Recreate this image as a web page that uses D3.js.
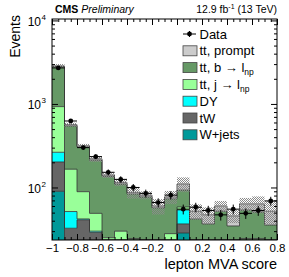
<!DOCTYPE html>
<html>
<head>
<meta charset="utf-8">
<script src="https://cdn.jsdelivr.net/npm/d3@7"></script>
<style>
  body { margin: 0; background: #fff; }
  svg { display: block; font-family: "Liberation Sans", Arial, sans-serif; }
</style>
</head>
<body>
<svg width="289" height="277"></svg>
<script>
// lepton MVA score bins (low edges), width 0.1
const binLow = [-1, -0.9, -0.8, -0.7, -0.6, -0.5, -0.4, -0.3, -0.2, -0.1, 0, 0.1, 0.2, 0.3, 0.4, 0.5, 0.6, 0.7]
const binWidth = 0.1

const data     = [2700, 625, 300, 234, 152, 125, 100, 85, 66, 81, 55, 58, 53, 47, 55, 49, 53, 69]
const wjets    = [90, 10, 5, 3, 2, 2, 1, 1, 1, 1, 28.5, 1, 1, 1, 1, 1, 1, 1]
const tw       = [112, 22.5, 36, 26, 10, 12, 22, 10, 10, 12, 8.1, 6, 6, 7, 6, 6, 6, 6]
const dy       = [62, 19, 1, 1, 1, 1, 0.5, 1, 1, 2, 17.2, 1, 1, 1, 1, 1, 1, 1]
const ttJ      = [665, 114, 47, 19, 12, 15, 1, 8, 6, 13, 4.6, 5, 5, 5, 4, 16.5, 16.5, 5]
const ttB      = [1870, 380, 216, 163, 111, 80, 59, 57, 39, 45, 34.6, 29, 23.6, 38, 22.6, 29.3, 26.5, 22.5]
const ttPrompt = [50, 20, 10, 8, 5, 5, 4, 4, 3, 4, 17, 10, 10.4, 8, 11, 9.7, 12.5, 16.5]
const mcUnc    = [0.055, 0.055, 0.055, 0.08, 0.08, 0.1, 0.16, 0.11, 0.21, 0.18, 0.2, 0.21, 0.23, 0.15, 0.18, 0.18, 0.23, 0.32] // relative

const xTicks = [-1, -0.8, -0.6, -0.4, -0.2, 0, 0.2, 0.4, 0.6, 0.8]
const xTickLabels = ['\u22121', '\u22120.8', '\u22120.6', '\u22120.4', '\u22120.2', '0', '0.2', '0.4', '0.6', '0.8']
const yTicks = [100, 1000, 10000]
const yTickExp = ['2', '3', '4']

// stack order, bottom to top
const keys = ['wjets', 'tw', 'dy', 'ttJ', 'ttB', 'ttPrompt']
const colors = {wjets: '#009999', tw: '#666666', dy: '#00ffff', ttJ: '#99ff99', ttB: '#669966', ttPrompt: '#cccccc'}

const legendRows = [
  {name: 'Data', sub: ''},
  {name: 'tt, prompt', sub: '', key: 'ttPrompt'},
  {name: 'tt, b \u2192 l', sub: 'np', key: 'ttB'},
  {name: 'tt, j \u2192 l', sub: 'np', key: 'ttJ'},
  {name: 'DY', sub: '', key: 'dy'},
  {name: 'tW', sub: '', key: 'tw'},
  {name: 'W+jets', sub: '', key: 'wjets'},
]

const svg = d3.select('svg')
const pLeft = 52, pRight = 277, pTop = 19, pBottom = 240
const yMin = 23.5

const x = d3.scaleLinear()
  .domain([-1, 0.8])
  .range([pLeft, pRight])

const y = d3.scaleLog()
  .domain([yMin, 10400])
  .range([pBottom, pTop])
  .clamp(true)

const ys = v => y(Math.max(v, yMin))

// hatch pattern for the MC uncertainty
const defs = svg.append('defs')
const pat = defs.append('pattern')
  .attr('id', 'hatch')
  .attr('width', 2).attr('height', 2)
  .attr('patternUnits', 'userSpaceOnUse')
pat.append('rect').attr('x', 0).attr('y', 0).attr('width', 1).attr('height', 1).attr('fill', '#8a8a8a')
pat.append('rect').attr('x', 1).attr('y', 1).attr('width', 1).attr('height', 1).attr('fill', '#8a8a8a')

defs.append('clipPath').attr('id', 'plot')
  .append('rect').attr('x', pLeft).attr('y', pTop).attr('width', pRight - pLeft).attr('height', pBottom - pTop)

const rows = binLow.map((b, i) => ({
  wjets: wjets[i], tw: tw[i], dy: dy[i], ttJ: ttJ[i], ttB: ttB[i], ttPrompt: ttPrompt[i]
}))
const series = d3.stack().keys(keys)(rows)

// turn bins into step points
const steps = s => s.flatMap((d, i) => [
  {x: binLow[i], lo: d[0], hi: d[1]},
  {x: binLow[i] + binWidth, lo: d[0], hi: d[1]}
])

const area = d3.area()
  .x(p => x(p.x))
  .y0(p => ys(p.lo))
  .y1(p => ys(p.hi))

const topLine = d3.line()
  .x(p => x(p.x))
  .y(p => ys(p.hi))

const plot = svg.append('g').attr('clip-path', 'url(#plot)')

plot.selectAll('path.fill')
  .data(series)
  .enter()
  .append('path')
  .attr('class', 'fill')
  .attr('fill', s => colors[s.key])
  .attr('d', s => area(steps(s)))

plot.selectAll('path.edge')
  .data(series)
  .enter()
  .append('path')
  .attr('class', 'edge')
  .attr('fill', 'none')
  .attr('stroke', '#333')
  .attr('stroke-width', 0.8)
  .attr('d', s => topLine(steps(s)))

// uncertainty band around the total
const total = series[series.length - 1]
plot.selectAll('rect.band')
  .data(total)
  .enter()
  .append('rect')
  .attr('class', 'band')
  .attr('x', (d, i) => x(binLow[i]))
  .attr('width', (d, i) => x(binLow[i] + binWidth) - x(binLow[i]))
  .attr('y', (d, i) => ys(d[1] * (1 + mcUnc[i])))
  .attr('height', (d, i) => ys(d[1] * (1 - mcUnc[i])) - ys(d[1] * (1 + mcUnc[i])))
  .attr('fill', 'url(#hatch)')

// data points
const pts = svg.append('g').attr('clip-path', 'url(#plot)')
  .selectAll('g')
  .data(data)
  .enter()
  .append('g')

pts.append('line')
  .attr('x1', (d, i) => x(binLow[i]))
  .attr('x2', (d, i) => x(binLow[i] + binWidth))
  .attr('y1', d => ys(d)).attr('y2', d => ys(d))
  .attr('stroke', '#000').attr('stroke-width', 1)

pts.append('line')
  .attr('x1', (d, i) => x(binLow[i] + binWidth / 2))
  .attr('x2', (d, i) => x(binLow[i] + binWidth / 2))
  .attr('y1', d => ys(d + Math.sqrt(d)))
  .attr('y2', d => ys(d - Math.sqrt(d)))
  .attr('stroke', '#000').attr('stroke-width', 1)

pts.append('circle')
  .attr('cx', (d, i) => x(binLow[i] + binWidth / 2))
  .attr('cy', d => ys(d))
  .attr('r', 2.4)
  .attr('fill', '#000')

// axes: ticks pointing inward on all four sides
const xMinor = d3.range(-1, 0.8001, 0.05)
const yMinor = [30, 40, 50, 60, 70, 80, 90, 200, 300, 400, 500, 600, 700, 800, 900,
  2000, 3000, 4000, 5000, 6000, 7000, 8000, 9000]

function tickAxis(axis, transform) {
  const g = svg.append('g').attr('transform', transform).call(axis)
  g.select('.domain').remove()
  g.selectAll('line').attr('stroke', '#000')
  g.attr('font-family', null).attr('font-size', null)
  return g
}

const xb = tickAxis(d3.axisBottom(x).tickValues(xTicks).tickSize(-6).tickPadding(4)
  .tickFormat((d, i) => xTickLabels[i]), `translate(0,${pBottom})`)
xb.selectAll('text').attr('font-size', 11.5).attr('fill', '#000')
tickAxis(d3.axisBottom(x).tickValues(xMinor).tickSize(-3).tickFormat(''), `translate(0,${pBottom})`)
tickAxis(d3.axisTop(x).tickValues(xTicks).tickSize(-6).tickFormat(''), `translate(0,${pTop})`)
tickAxis(d3.axisTop(x).tickValues(xMinor).tickSize(-3).tickFormat(''), `translate(0,${pTop})`)

tickAxis(d3.axisLeft(y).tickValues(yTicks).tickSize(-6).tickFormat(''), `translate(${pLeft},0)`)
tickAxis(d3.axisLeft(y).tickValues(yMinor).tickSize(-3).tickFormat(''), `translate(${pLeft},0)`)
tickAxis(d3.axisRight(y).tickValues(yTicks).tickSize(-6).tickFormat(''), `translate(${pRight},0)`)
tickAxis(d3.axisRight(y).tickValues(yMinor).tickSize(-3).tickFormat(''), `translate(${pRight},0)`)

// y tick labels 10^n
svg.selectAll('text.ylab')
  .data(yTicks)
  .enter()
  .append('text')
  .attr('class', 'ylab')
  .attr('x', 41)
  .attr('y', d => y(d) + 5.5)
  .attr('text-anchor', 'end')
  .attr('font-size', 12)
  .text('10')
svg.selectAll('text.yexp')
  .data(yTicks)
  .enter()
  .append('text')
  .attr('class', 'yexp')
  .attr('x', 41.5)
  .attr('y', d => y(d) - 0.5)
  .attr('font-size', 8)
  .text((d, i) => yTickExp[i])

// frame
svg.append('rect')
  .attr('x', pLeft).attr('y', pTop)
  .attr('width', pRight - pLeft).attr('height', pBottom - pTop)
  .attr('fill', 'none').attr('stroke', '#000').attr('stroke-width', 1)

// titles
svg.append('text')
  .attr('x', pRight).attr('y', 268.5)
  .attr('text-anchor', 'end')
  .attr('font-size', 14.5)
  .text('lepton MVA score')

svg.append('text')
  .attr('transform', `translate(19.5,${pTop - 4}) rotate(-90)`)
  .attr('text-anchor', 'end')
  .attr('font-size', 14)
  .text('Events')

const cms = svg.append('text').attr('x', 55).attr('y', 12.5).attr('font-size', 10.5)
cms.append('tspan').attr('font-weight', 'bold').text('CMS')
cms.append('tspan').attr('font-style', 'italic').attr('dx', 3).text('Preliminary')

const lumi = svg.append('text').attr('x', pRight).attr('y', 12.5).attr('font-size', 10.5).attr('text-anchor', 'end')
lumi.append('tspan').text('12.9 fb')
lumi.append('tspan').attr('font-size', 7).attr('dy', -4).text('-1')
lumi.append('tspan').attr('dy', 4).text(' (13 TeV)')

// legend
const leg = svg.selectAll('g.leg')
  .data(legendRows)
  .enter()
  .append('g')
  .attr('class', 'leg')
  .attr('transform', (d, i) => `translate(183, ${34 + i * 16.8})`)

leg.filter(d => d.key)
  .append('rect')
  .attr('x', 0).attr('y', -5)
  .attr('width', 14).attr('height', 10)
  .attr('fill', d => colors[d.key])
  .attr('stroke', '#444').attr('stroke-width', 0.8)

const dleg = leg.filter(d => !d.key)
dleg.append('line').attr('x1', 0).attr('x2', 13).attr('y1', 0).attr('y2', 0).attr('stroke', '#000')
dleg.append('line').attr('x1', 6.5).attr('x2', 6.5).attr('y1', -3).attr('y2', 3).attr('stroke', '#000')
dleg.append('circle').attr('cx', 6.5).attr('cy', 0).attr('r', 2.4).attr('fill', '#000')

const lt = leg.append('text')
  .attr('x', 16.5)
  .attr('y', 4.5)
  .attr('font-size', 13)
lt.append('tspan').text(d => d.name)
lt.filter(d => d.sub).append('tspan')
  .attr('font-size', 8.5)
  .attr('dy', 3)
  .text(d => d.sub)
</script>
</body>
</html>
